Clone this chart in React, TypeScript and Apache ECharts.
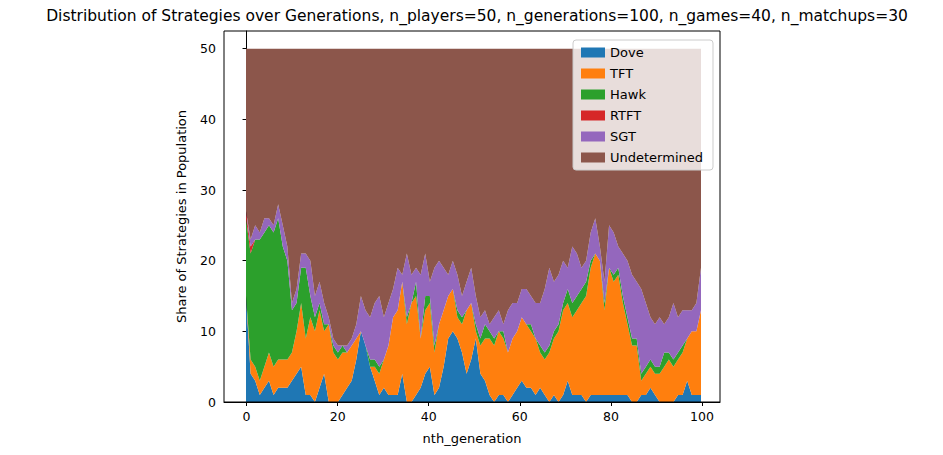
import React, { useEffect, useRef } from 'react';
import * as echarts from 'echarts';

const generations = Array.from({ length: 100 }, (_, i) => String(i));
const strategies = ['Dove', 'TFT', 'Hawk', 'RTFT', 'SGT', 'Undetermined'];
const colors = ['#1f77b4', '#ff7f0e', '#2ca02c', '#d62728', '#9467bd', '#8c564b'];

const dove = [15,4,3,1,2,3,1,2,2,2, 3,4,5,1,1,0,2,4,0,0, 0,1,2,3,6,10,8,5,3,1, 2,1,1,1,4,0,0,1,2,4, 5,1,2,5,9,10,9,7,4,6, 9,4,3,1,0,1,1,0,1,2, 3,2,2,1,2,1,0,1,0,1, 3,1,1,1,0,1,1,1,1,1, 1,1,1,1,0,0,1,1,2,1, 0,0,0,0,1,1,3,1,1,1];
const tft = [0,2,2,2,3,4,4,4,4,4, 4,6,9,8,11,10,11,6,11,7, 6,6,5,5,3,0,0,0,2,3, 4,7,11,12,13,11,14,14,7,9, 9,6,9,8,6,6,3,4,9,8, 1,4,6,8,8,9,8,7,8,8, 9,9,8,8,5,5,7,8,10,12, 11,11,12,13,15,18,20,19,12,18, 16,17,13,10,8,8,2,3,3,3, 4,5,6,5,5,6,6,9,9,12];
const hawk = [11,15,18,20,19,18,19,20,16,14, 6,4,5,10,3,2,1,1,0,1, 1,1,0,0,0,0,0,1,1,1, 0,0,0,0,0,1,0,2,0,2, 1,1,0,0,0,0,1,1,0,0, 1,1,2,1,1,0,1,0,0,0, 0,0,1,0,1,1,1,1,1,1, 2,2,2,2,2,1,0,0,1,0, 1,1,1,1,1,1,1,1,1,1, 1,2,1,1,1,1,0,0,0,0];
const rtft = [1,1,0,0,0,0,0,0,0,0, 0,0,0,0,0,0,0,0,0,0, 0,0,0,0,0,0,0,0,0,0, 0,0,0,0,0,0,0,0,0,0, 0,0,0,0,0,0,0,0,0,0, 0,0,0,0,0,0,0,0,0,0, 0,0,0,0,0,0,0,0,0,0, 0,0,0,0,0,0,0,0,0,0, 0,0,0,0,0,0,0,0,0,0, 0,0,0,0,0,0,0,0,0,0];
const sgt = [0,1,2,1,2,1,1,2,3,2, 1,2,2,2,5,3,3,3,1,1, 1,0,1,1,2,5,5,6,8,10, 6,6,4,6,1,9,4,2,9,6, 2,11,9,6,3,4,5,3,4,5, 4,3,2,1,3,3,1,6,5,4, 4,5,4,5,6,9,11,7,7,6, 3,8,6,3,3,4,5,2,3,6, 6,3,6,8,9,8,12,9,6,6, 7,4,5,8,5,5,4,3,4,6];
const undetermined = [23,27,25,26,24,24,25,22,25,28, 36,34,29,29,30,35,33,36,38,41, 42,42,42,41,39,35,37,38,36,35, 38,36,34,31,32,29,32,31,32,29, 33,31,30,31,32,30,32,35,33,31, 35,38,37,39,38,37,39,37,36,36, 34,34,35,36,36,34,31,33,32,30, 31,28,29,31,30,26,24,28,33,25, 26,28,29,30,32,33,34,36,38,39, 38,39,38,36,38,37,37,37,36,31];

const seriesValues = [dove, tft, hawk, rtft, sgt, undetermined];
const xTicks = [0, 20, 40, 60, 80, 100];
const yTicks = [0, 10, 20, 30, 40, 50];

const App: React.FC = () => {
  const ref = useRef<HTMLDivElement>(null);

  useEffect(() => {
    if (!ref.current) return;
    const chart = echarts.init(ref.current, undefined, { renderer: 'svg' });
    const font = 'DejaVu Sans';
    chart.setOption({
      animation: false,
      textStyle: { fontFamily: font },
      title: {
        text: 'Distribution of Strategies over Generations, n_players=50, n_generations=100, n_games=40, n_matchups=30',
        left: 472,
        textAlign: 'center',
        top: 3,
        textStyle: { fontSize: 15.5, fontWeight: 'normal', color: '#000', fontFamily: font },
      },
      legend: {
        data: strategies,
        orient: 'vertical',
        right: 230,
        top: 40,
        itemWidth: 24,
        itemHeight: 10,
        itemGap: 8,
        padding: [6, 10, 6, 8],
        backgroundColor: 'rgba(255,255,255,0.8)',
        borderColor: '#ccc',
        borderWidth: 1,
        borderRadius: 3,
        icon: 'rect',
        textStyle: { fontSize: 13, color: '#000', fontFamily: font },
      },
      grid: [
        { left: 224, right: 223, top: 31, bottom: 53, show: true, borderColor: '#000', borderWidth: 1, z: 5 },
        { left: 246, right: 242, top: 31, bottom: 53 },
      ],
      xAxis: [
        {
          type: 'value',
          gridIndex: 0,
          min: -4.95,
          max: 103.95,
          name: 'nth_generation',
          nameLocation: 'middle',
          nameGap: 30,
          nameTextStyle: { fontSize: 13, color: '#000' },
          splitLine: { show: false },
          axisLine: { lineStyle: { color: '#000' } },
          axisTick: { show: true, length: 4, customValues: xTicks, lineStyle: { color: '#000' } },
          axisLabel: { customValues: xTicks, fontSize: 12.5, color: '#000' },
        },
        {
          type: 'category',
          gridIndex: 1,
          data: generations,
          boundaryGap: false,
          show: false,
        },
      ],
      yAxis: [
        {
          type: 'value',
          gridIndex: 0,
          min: 0,
          max: 52.5,
          name: 'Share of Strategies in Population',
          nameLocation: 'middle',
          nameGap: 36,
          nameTextStyle: { fontSize: 13, color: '#000' },
          splitLine: { show: false },
          axisLine: { show: true, lineStyle: { color: '#000' } },
          axisTick: { show: true, length: 4, customValues: yTicks, lineStyle: { color: '#000' } },
          axisLabel: { customValues: yTicks, fontSize: 12.5, color: '#000' },
        },
        { type: 'value', gridIndex: 1, min: 0, max: 52.5, show: false },
      ],
      series: strategies.map((name, k) => ({
        name,
        type: 'line',
        xAxisIndex: 1,
        yAxisIndex: 1,
        stack: 'total',
        symbol: 'none',
        lineStyle: { width: 0 },
        itemStyle: { color: colors[k] },
        areaStyle: { color: colors[k], opacity: 1 },
        data: seriesValues[k],
      })),
    });
    return () => chart.dispose();
  }, []);

  return (
    <div
      ref={ref}
      style={{ position: 'absolute', left: 0, top: 0, width: '943px', height: '455px' }}
    />
  );
};

export default App;
